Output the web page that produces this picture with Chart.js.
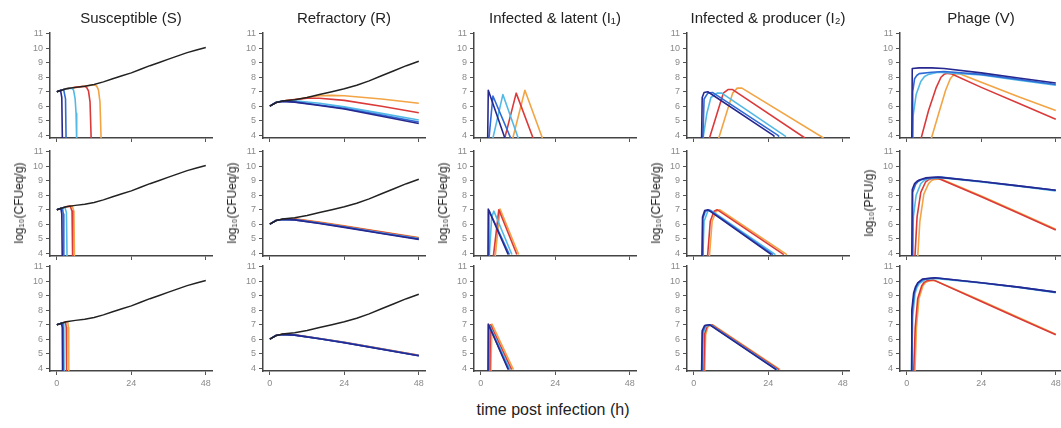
<!DOCTYPE html>
<html>
<head>
<meta charset="utf-8">
<script src="https://cdn.jsdelivr.net/npm/chart.js@4.4.0/dist/chart.umd.min.js"></script>
<style>
  body { margin: 0; background: #fff; }
  #wrap { position: relative; width: 1061px; height: 428px; overflow: hidden; font-family: "Liberation Sans", Arial, sans-serif; color: #222; }
  #wrap canvas { position: absolute; }
  .ctitle { position: absolute; top: 9px; font-size: 15px; white-space: nowrap; transform: translateX(-50%); }
  .ytitle { position: absolute; font-size: 12px; white-space: nowrap; transform: translate(-50%, -50%) rotate(-90deg); }
  .xtitle { position: absolute; top: 401px; left: 553px; font-size: 16px; transform: translateX(-50%); white-space: nowrap; }
</style>
</head>
<body>
<div id="wrap"></div>
<script>
const timeTicks = [0, 24, 48];
const logTicks = [4, 5, 6, 7, 8, 9, 10, 11];
const panelTitles = ["Susceptible (S)", "Refractory (R)", "Infected & latent (I₁)", "Infected & producer (I₂)", "Phage (V)"];
const yTitles = ["log₁₀(CFUeq/g)", "log₁₀(CFUeq/g)", "log₁₀(CFUeq/g)", "log₁₀(CFUeq/g)", "log₁₀(PFU/g)"];
const xTitle = "time post infection (h)";

// no-phage control (black)
const controlS = [[0,7.0],[3,7.2],[6,7.3],[9,7.38],[12,7.5],[15,7.68],[18,7.9],[21,8.1],[24,8.3],[27,8.55],[30,8.8],[33,9.02],[36,9.25],[39,9.48],[42,9.7],[45,9.88],[48,10.05]];
const controlR = [[0,6.0],[2,6.25],[4,6.35],[8,6.45],[12,6.6],[16,6.8],[20,7.0],[24,7.2],[28,7.45],[32,7.75],[36,8.1],[40,8.45],[44,8.8],[48,9.1]];

// each panel: [navy, blue, sky, red, orange] as [time, log value]
const S_row1 = [
  [[0,7.0],[1.2,7.1],[1.6,6.6],[1.8,3.5]],
  [[0,7.0],[2.2,7.15],[2.8,6.5],[3.0,3.5]],
  [[0,7.0],[3,7.2],[4.8,7.25],[5.4,7.1],[5.9,6.5],[6.2,5.5],[6.4,3.5]],
  [[0,7.0],[3,7.2],[6,7.3],[8.8,7.38],[9.6,7.3],[10.2,7.05],[10.7,6.3],[11.1,3.5]],
  [[0,7.0],[3,7.2],[6,7.3],[9,7.38],[12,7.48],[12.8,7.4],[13.4,7.15],[13.9,6.3],[14.3,3.5]]
];
const S_row2 = [
  [[0,7.0],[1.3,7.1],[1.6,6.7],[1.75,3.5]],
  [[0,7.0],[1.8,7.12],[2.1,6.7],[2.25,3.5]],
  [[0,7.0],[2.6,7.17],[3.1,6.8],[3.3,3.5]],
  [[0,7.0],[3,7.2],[4.3,7.25],[4.9,6.9],[5.1,3.5]],
  [[0,7.0],[3,7.2],[4.9,7.27],[5.5,6.9],[5.7,3.5]]
];
const S_row3 = [
  [[0,7.0],[1.5,7.1],[1.75,6.8],[1.85,3.5]],
  [[0,7.0],[1.7,7.12],[1.95,6.8],[2.05,3.5]],
  [[0,7.0],[2.0,7.14],[2.25,6.8],[2.35,3.5]],
  [[0,7.0],[2.8,7.18],[3.05,6.8],[3.15,3.5]],
  [[0,7.0],[3.5,7.2],[3.75,6.8],[3.85,3.5]]
];

const R_row1 = [
  [[0,6.0],[2,6.25],[4,6.33],[8,6.28],[16,6.05],[24,5.8],[36,5.3],[48,4.8]],
  [[0,6.0],[2,6.25],[4,6.34],[8,6.3],[16,6.08],[24,5.85],[36,5.38],[48,4.9]],
  [[0,6.0],[2,6.25],[4,6.35],[8,6.38],[16,6.2],[24,5.95],[36,5.5],[48,5.05]],
  [[0,6.0],[2,6.25],[4,6.35],[8,6.45],[12,6.55],[16,6.55],[24,6.4],[36,6.0],[48,5.55]],
  [[0,6.0],[2,6.25],[4,6.35],[8,6.45],[12,6.6],[16,6.72],[20,6.75],[24,6.72],[36,6.5],[48,6.2]]
];
const R_row2 = [
  [[0,6.0],[2,6.25],[4,6.32],[8,6.3],[16,6.05],[24,5.78],[36,5.35],[48,4.95]],
  [[0,6.0],[2,6.25],[4,6.32],[8,6.3],[16,6.06],[24,5.8],[36,5.37],[48,4.97]],
  [[0,6.0],[2,6.25],[4,6.33],[8,6.32],[16,6.08],[24,5.82],[36,5.4],[48,5.0]],
  [[0,6.0],[2,6.25],[4,6.34],[8,6.36],[16,6.12],[24,5.86],[36,5.45],[48,5.05]],
  [[0,6.0],[2,6.25],[4,6.34],[8,6.38],[16,6.14],[24,5.88],[36,5.47],[48,5.08]]
];
const R_row3 = [
  [[0,6.0],[2,6.25],[4,6.32],[8,6.28],[16,6.03],[24,5.75],[36,5.3],[48,4.85]],
  [[0,6.0],[2,6.25],[4,6.32],[8,6.28],[16,6.03],[24,5.76],[36,5.31],[48,4.86]],
  [[0,6.0],[2,6.25],[4,6.32],[8,6.29],[16,6.04],[24,5.77],[36,5.32],[48,4.87]],
  [[0,6.0],[2,6.25],[4,6.33],[8,6.3],[16,6.05],[24,5.78],[36,5.33],[48,4.88]],
  [[0,6.0],[2,6.25],[4,6.33],[8,6.3],[16,6.05],[24,5.78],[36,5.34],[48,4.89]]
];

const I1_row1 = [
  [[2.2,3.5],[2.4,7.1],[7.9,3.7]],
  [[2.5,3.5],[3.9,6.7],[9.8,3.7]],
  [[3.8,3.7],[7.1,6.8],[12.2,3.7]],
  [[7.6,3.7],[11.4,6.9],[17.0,3.7]],
  [[10.2,3.7],[14.2,7.1],[20.0,3.7]]
];
const I1_row2 = [
  [[2.3,3.7],[2.4,7.05],[8.8,3.9]],
  [[2.5,3.7],[2.6,6.95],[9.2,3.9]],
  [[2.7,3.7],[3.5,6.5],[4.2,6.9],[10.0,3.9]],
  [[4.0,3.7],[5.8,7.0],[11.6,3.9]],
  [[4.6,3.7],[6.2,7.05],[12.2,3.9]]
];
const I1_row3 = [
  [[2.3,3.7],[2.4,7.05],[8.8,3.9]],
  [[2.4,3.7],[2.5,7.0],[9.0,3.9]],
  [[2.6,3.7],[2.8,6.95],[9.4,3.9]],
  [[2.9,3.7],[3.1,7.0],[9.9,3.9]],
  [[3.2,3.7],[3.6,7.05],[10.5,3.9]]
];

const I2_row1 = [
  [[2.5,3.7],[2.7,6.6],[3.3,6.95],[4.5,7.0],[25.5,4.0],[26,3.9]],
  [[2.9,3.7],[3.3,6.5],[4.5,6.9],[6,6.95],[27,4.0],[27.5,3.9]],
  [[2.9,3.7],[4.2,5.5],[5.5,6.6],[7.5,6.9],[9,6.9],[29.7,3.9]],
  [[4.9,3.7],[9.5,6.9],[11,7.15],[12.5,7.15],[35.8,3.8]],
  [[7.9,3.7],[12.5,6.9],[14,7.25],[15.5,7.25],[41.8,3.8]]
];
const I2_row2 = [
  [[2.6,3.7],[2.8,6.5],[3.5,6.95],[4.5,7.0],[25,3.9]],
  [[2.7,3.7],[2.9,6.4],[3.7,6.9],[5,6.98],[25.5,3.9]],
  [[2.9,3.7],[3.3,6.2],[4.5,6.9],[5.5,6.95],[26.3,3.9]],
  [[4.4,3.7],[5.3,6.2],[6.5,6.9],[7.5,7.0],[29,3.9]],
  [[5.0,3.7],[5.9,6.2],[7.2,6.9],[8.3,7.0],[30,3.9]]
];
const I2_row3 = [
  [[2.5,3.7],[2.7,6.6],[3.5,6.95],[5,7.0],[26.5,3.9]],
  [[2.6,3.7],[2.8,6.5],[3.7,6.95],[5.2,7.0],[26.7,3.9]],
  [[2.8,3.7],[3.0,6.4],[3.9,6.9],[5.3,7.0],[26.9,3.9]],
  [[3.2,3.7],[3.5,6.4],[4.3,6.9],[5.7,7.0],[27.4,3.9]],
  [[3.5,3.7],[3.8,6.3],[4.6,6.9],[6,7.0],[27.8,3.9]]
];

const V_row1 = [
  [[1.6,3.7],[1.75,8.6],[4,8.65],[8,8.65],[12,8.6],[24,8.3],[36,7.95],[48,7.6]],
  [[1.7,3.7],[1.9,7.0],[2.5,7.9],[3.2,8.12],[4,8.25],[8,8.35],[12,8.4],[24,8.2],[36,7.85],[48,7.5]],
  [[1.8,3.7],[2.0,5.3],[3,6.8],[4.5,7.7],[5.7,8.05],[7,8.2],[10,8.35],[24,8.15],[36,7.8],[48,7.45]],
  [[4.5,3.7],[7,5.7],[9.5,7.3],[11,8.0],[12,8.2],[13.2,8.27],[14.5,8.22],[24,7.3],[36,6.2],[48,5.1]],
  [[7.8,3.7],[10,5.3],[12.5,7.1],[14,7.9],[15,8.15],[16,8.25],[17.2,8.22],[24,7.65],[36,6.65],[48,5.7]]
];
const V_row2 = [
  [[1.6,3.7],[1.75,8.4],[2.5,8.8],[3.2,8.95],[4,9.05],[6,9.2],[10,9.25],[24,8.95],[36,8.65],[48,8.35]],
  [[1.7,3.7],[1.9,8.2],[2.8,8.75],[3.6,8.95],[4.5,9.05],[7,9.2],[11,9.25],[24,8.95],[36,8.65],[48,8.35]],
  [[1.8,3.7],[2.1,6.5],[3,8.0],[4.5,8.8],[5.6,9.02],[7,9.15],[11,9.22],[24,8.92],[36,8.62],[48,8.3]],
  [[2.6,3.7],[3.3,6.5],[4.5,8.2],[6,8.9],[7,9.08],[8,9.15],[10,9.18],[24,7.9],[36,6.75],[48,5.6]],
  [[3.5,3.7],[4.2,6.2],[5.5,8.1],[7,8.8],[8,9.02],[9,9.1],[11,9.13],[24,7.95],[36,6.8],[48,5.65]]
];
const V_row3 = [
  [[1.4,3.7],[1.6,8.0],[2.2,9.2],[2.8,9.62],[3.5,9.9],[5,10.15],[9,10.25],[24,9.9],[36,9.6],[48,9.25]],
  [[1.5,3.7],[1.7,7.8],[2.4,9.2],[3.0,9.6],[3.7,9.9],[5.5,10.15],[9,10.25],[24,9.9],[36,9.6],[48,9.25]],
  [[1.6,3.7],[1.9,7.5],[2.6,9.1],[3.2,9.55],[4,9.85],[6,10.12],[9,10.2],[24,9.88],[36,9.58],[48,9.22]],
  [[2.2,3.7],[2.7,6.8],[3.5,8.8],[4.8,9.7],[5.6,9.93],[6.5,10.05],[8.5,10.1],[24,8.6],[36,7.45],[48,6.3]],
  [[2.6,3.7],[3.1,6.8],[3.9,8.8],[5.2,9.7],[6,9.92],[7,10.02],[9,10.06],[24,8.65],[36,7.5],[48,6.35]]
];

const grid = [
  [S_row1, R_row1, I1_row1, I2_row1, V_row1],
  [S_row2, R_row2, I1_row2, I2_row2, V_row2],
  [S_row3, R_row3, I1_row3, I2_row3, V_row3]
];
const controls = [controlS, controlR, null, null, null];

const colors = ["#27288f", "#2f6bd6", "#52b9e6", "#db3a3a", "#f3a444"];

// layout (px)
const colAxisX = [50, 263, 474, 687, 900];
const rowTop = [32, 150, 265];
const YW = 30, PW = 162, PR = 10, PT = 8, PH = 106, XH = 22;

const wrap = document.getElementById("wrap");

function toPts(arr) {
  return arr.map(p => ({ x: p[0], y: p[1] }));
}

function axisOpts(ticks, showLabels) {
  return {
    type: "linear",
    grid: { drawOnChartArea: false, drawTicks: true, tickLength: 4, color: "#555", lineWidth: 1 },
    border: { color: "#444", width: 1.5 },
    ticks: { display: showLabels, color: "#8a8a8a", font: { size: 9 }, padding: 3, maxRotation: 0, autoSkip: false },
    afterBuildTicks: s => { s.ticks = ticks.map(v => ({ value: v })); }
  };
}

for (let r = 0; r < 3; r++) {
  for (let c = 0; c < 5; c++) {
    const cv = document.createElement("canvas");
    cv.width = YW + PW + PR;
    cv.height = PT + PH + XH;
    cv.style.left = (colAxisX[c] - YW) + "px";
    cv.style.top = (rowTop[r] - PT) + "px";
    cv.style.width = cv.width + "px";
    cv.style.height = cv.height + "px";
    wrap.appendChild(cv);

    const datasets = [];
    if (controls[c]) {
      datasets.push({ data: toPts(controls[c]), borderColor: "#222", borderWidth: 1.5 });
    }
    grid[r][c].forEach((s, i) => {
      datasets.push({ data: toPts(s), borderColor: colors[i], borderWidth: 1.6 });
    });

    const xs = axisOpts(timeTicks, r === 2);
    xs.min = -2.2; xs.max = 50;
    xs.afterFit = s => { s.height = XH; };
    const ys = axisOpts(logTicks, true);
    ys.min = 3.8; ys.max = 11.1;
    ys.afterFit = s => { s.width = YW; };

    new Chart(cv, {
      type: "line",
      data: { datasets: datasets },
      options: {
        responsive: false,
        animation: false,
        events: [],
        layout: { padding: { top: PT, right: PR, left: 0, bottom: 0 } },
        plugins: { legend: { display: false }, tooltip: { enabled: false } },
        elements: { point: { radius: 0 }, line: { tension: 0, borderJoinStyle: "round", fill: false } },
        scales: { x: xs, y: ys }
      }
    });
  }
}

panelTitles.forEach((t, c) => {
  const d = document.createElement("div");
  d.className = "ctitle";
  d.textContent = t;
  d.style.left = (colAxisX[c] + PW / 2) + "px";
  wrap.appendChild(d);
});

yTitles.forEach((t, c) => {
  const d = document.createElement("div");
  d.className = "ytitle";
  d.textContent = t;
  d.style.left = (colAxisX[c] - 31) + "px";
  d.style.top = (rowTop[1] + PH / 2) + "px";
  wrap.appendChild(d);
});

const xt = document.createElement("div");
xt.className = "xtitle";
xt.textContent = xTitle;
wrap.appendChild(xt);
</script>
</body>
</html>
